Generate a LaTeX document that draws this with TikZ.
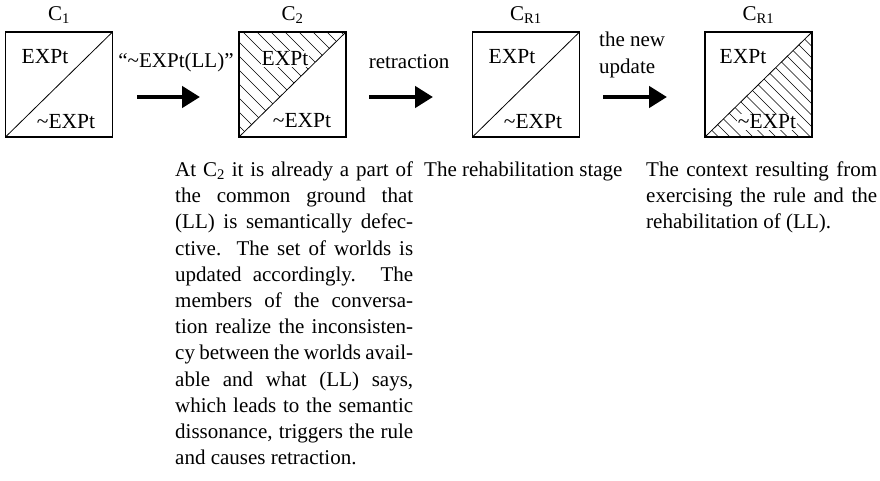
\documentclass[tikz,border=0pt]{standalone}
\usepackage{fontspec}
\setmainfont{Liberation Serif}
\usetikzlibrary{arrows.meta}
\newlength\colwA
\newlength\colwC
\setlength\colwA{238pt}
\setlength\colwC{231pt}
\newcommand\jlA[1]{\makebox[\colwA][s]{#1}\\}
\newcommand\jlC[1]{\makebox[\colwC][s]{#1}\\}
\begin{document}
\begin{tikzpicture}[x=1pt,y=-1pt,
  frame/.style={draw, line width=1.7pt, inner sep=0pt, outer sep=0pt, minimum width=107pt, minimum height=105pt},
  diag/.style={line width=0.8pt},
  hatch/.style={line width=0.6pt},
  boxtxt/.style={font=\fontsize{21.5}{24}\selectfont, inner sep=0.6pt},
  hboxtxt/.style={boxtxt, fill=white},
  lbl/.style={font=\fontsize{21}{24}\selectfont, inner sep=0pt},
  bigarrow/.style={line width=4.5pt, -{Triangle[length=18pt,width=21pt]}},
  body/.style={font=\fontsize{21}{26.2}\selectfont, inner sep=0pt, anchor=north west, align=left},
]
\useasboundingbox (0,0) rectangle (880,481);

% boxes
\node[frame] (b1) at (59,84.5) {};
\node[frame] (b2) at (292.5,84.5) {};
\node[frame] (b3) at (526,84.5) {};
\node[frame] (b4) at (758.5,84.5) {};

% hatching box 2 (upper-left triangle)
\begin{scope}
  \clip (b2.north west) -- (b2.north east) -- (b2.south west) -- cycle;
  \foreach \k in {-122,-108,...,120}
    \draw[hatch] ([xshift=\k pt]b2.north west) -- ++(140,140);
\end{scope}
% hatching box 4 (lower-right triangle)
\begin{scope}
  \clip (b4.north east) -- (b4.south east) -- (b4.south west) -- cycle;
  \foreach \k in {-126,-114.5,...,120}
    \draw[hatch] ([xshift=\k pt]b4.north west) -- ++(140,140);
\end{scope}

% diagonals and frames on top
\foreach \b in {b1,b2,b3,b4}{
  \draw[diag] (\b.south west) -- (\b.north east);
  \draw[line width=1.7pt] (\b.south west) rectangle (\b.north east);
}

% box texts
\node[boxtxt] (e1) at (45,57) {EXPt};
\node[boxtxt] (n1) at (66,122) {\textasciitilde EXPt};
\node[hboxtxt] (e2) at (285,59) {EXPt};
\node[boxtxt] (n2) at (302,121) {\textasciitilde EXPt};
\node[boxtxt] (e3) at (512,57) {EXPt};
\node[boxtxt] (n3) at (533,122) {\textasciitilde EXPt};
\node[boxtxt] (e4) at (743,57) {EXPt};
\node[hboxtxt] (n4) at (767,122) {\textasciitilde EXPt};

% context labels
\node[lbl] (c1) at (59,15) {C\textsubscript{1}};
\node[lbl] (c2) at (292.5,15) {C\textsubscript{2}};
\node[lbl] (c3) at (526,15) {C\textsubscript{R1}};
\node[lbl] (c4) at (758.5,15) {C\textsubscript{R1}};

% arrows
\coordinate (a1s) at (137,97); \coordinate (a1e) at (200,97);
\coordinate (a2s) at (369,97); \coordinate (a2e) at (433,97);
\coordinate (a3s) at (603,97); \coordinate (a3e) at (667,97);
\draw[bigarrow] (a1s) -- (a1e);
\draw[bigarrow] (a2s) -- (a2e);
\draw[bigarrow] (a3s) -- (a3e);

\node[lbl] (l1) at (176,62) {“\textasciitilde EXPt(LL)”};
\node[lbl] (l2) at (409,62) {retraction};
\node[lbl, anchor=north west, align=left, font=\fontsize{21}{27}\selectfont] (l3) at (599,32) {the new\\update};

% descriptions
\node[body] (t1) at (175,161.5) {%
\jlA{At C\textsubscript{2} it is already a part of}
\jlA{the common ground that}
\jlA{(LL) is semantically defec-}
\jlA{ctive. The set of worlds is}
\jlA{updated accordingly. The}
\jlA{members of the conversa-}
\jlA{tion realize the inconsisten-}
\jlA{cy between the worlds avail-}
\jlA{able and what (LL) says,}
\jlA{which leads to the semantic}
\jlA{dissonance, triggers the rule}
and causes retraction.};

\node[body] (t2) at (424,161.5) {The rehabilitation stage};

\node[body] (t3) at (646,161.5) {%
\jlC{The context resulting from}
\jlC{exercising the rule and the}
rehabilitation of (LL).};
\end{tikzpicture}
\end{document}
